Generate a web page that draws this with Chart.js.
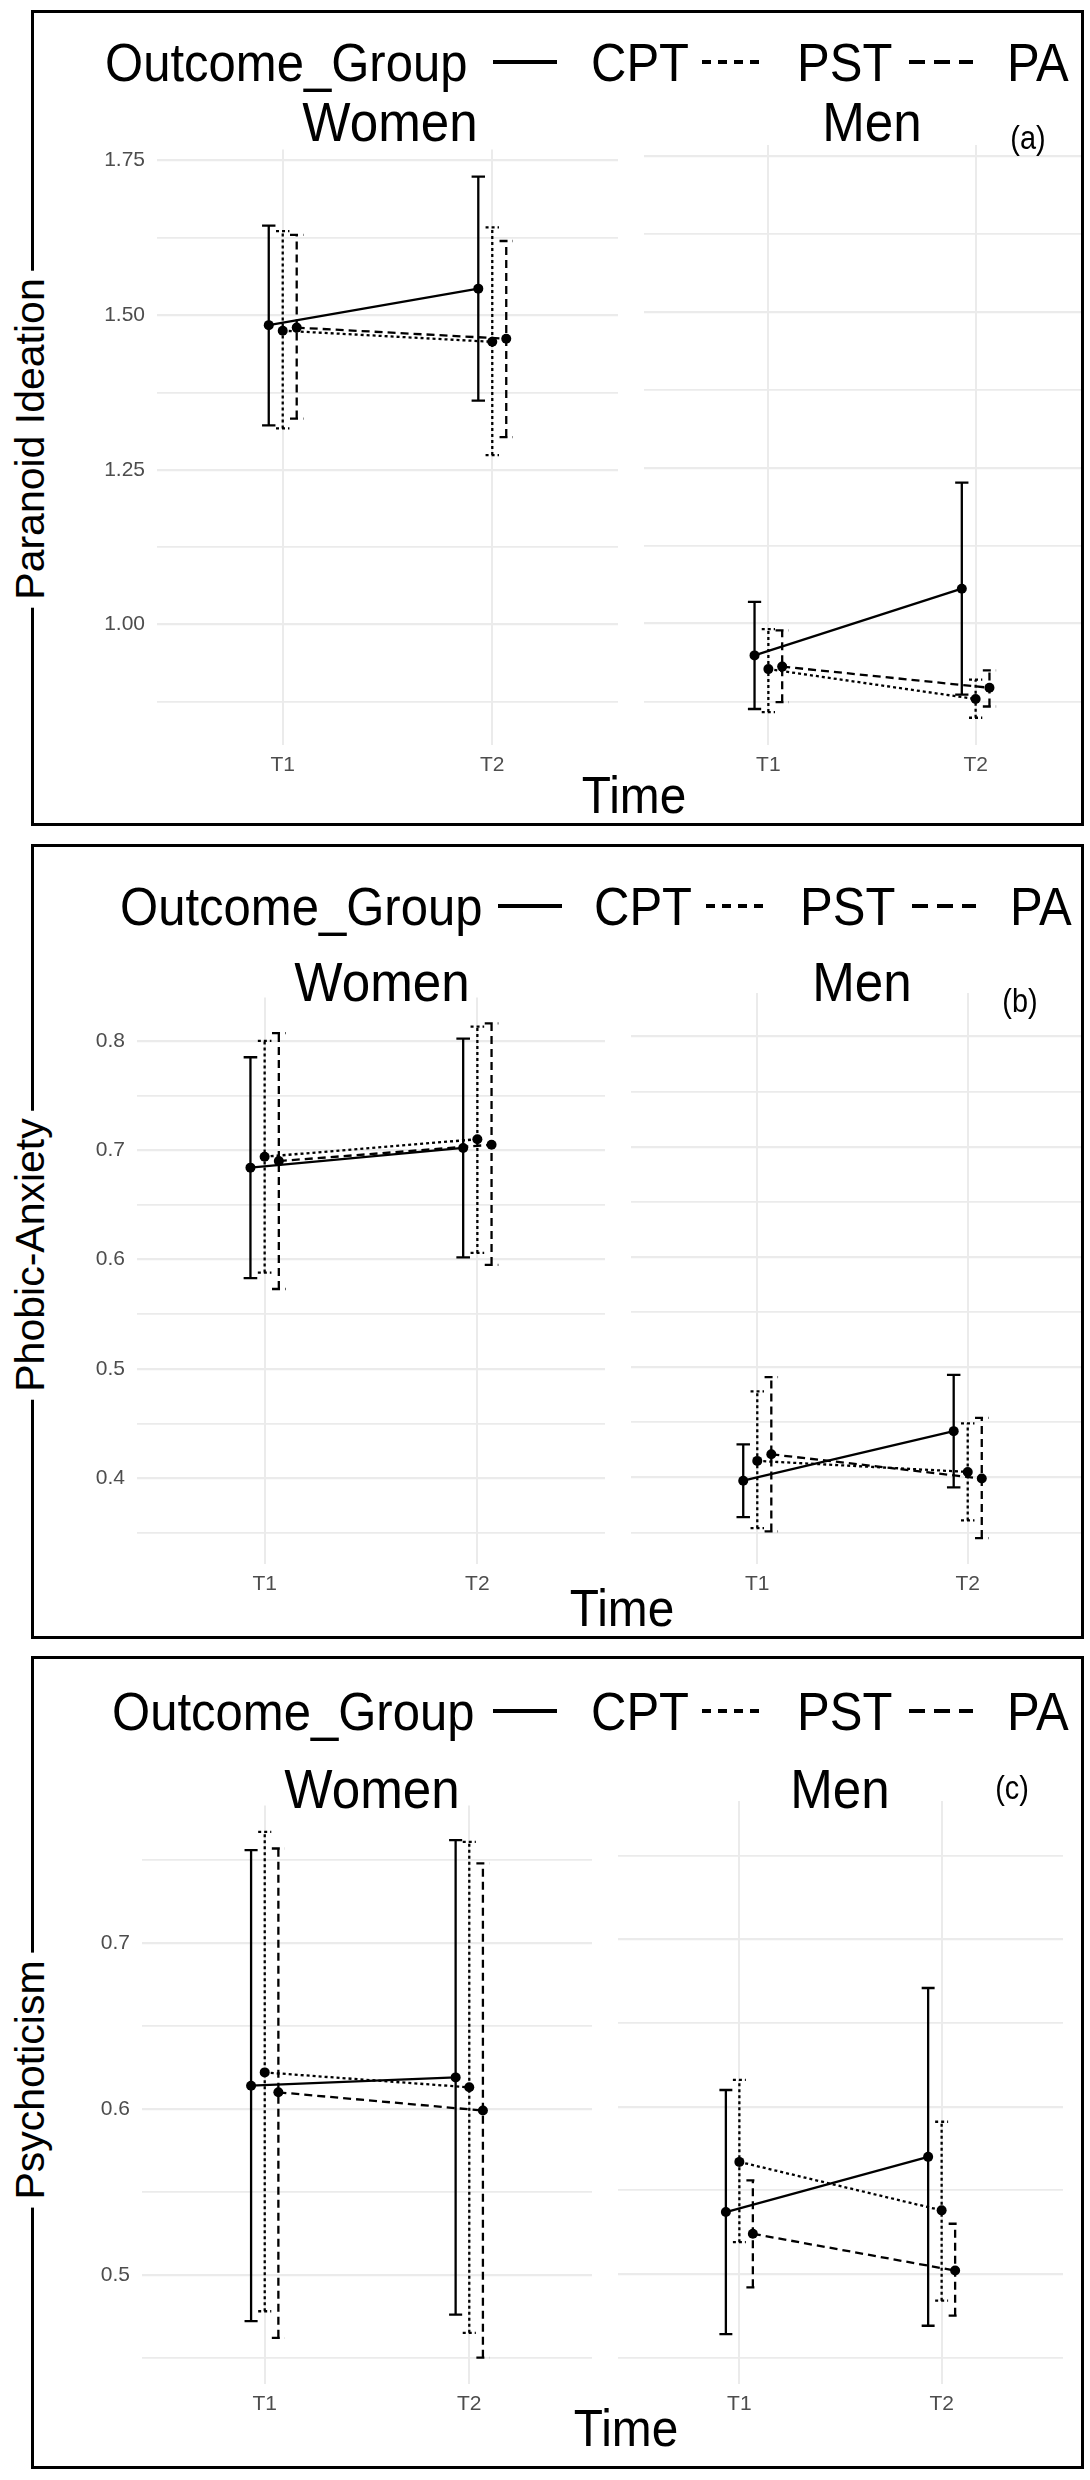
<!DOCTYPE html>
<html>
<head>
<meta charset="utf-8">
<script src="https://cdn.jsdelivr.net/npm/chart.js@4.4.0/dist/chart.umd.min.js"></script>
<style>
  body { margin: 0; background: #fff; width: 1090px; height: 2480px; position: relative; overflow: hidden;
         font-family: 'Liberation Sans', Arial, sans-serif; }
  .panel { position: absolute; box-sizing: border-box; border: 3px solid #000; overflow: hidden; background: #fff; }
  .panel canvas { position: absolute; }
  .txt { position: absolute; white-space: nowrap; line-height: 1; color: #000; z-index: 4; }
  .ytitle { background: #fff; padding: 0 8px; z-index: 6; }
  svg.key { position: absolute; z-index: 4; }
</style>
</head>
<body>
<script>
// categories
const timeLabels = ['T1', 'T2'];
const groupNames = ['CPT', 'PST', 'PA'];
const facetNames = ['Women', 'Men'];

// values are in the order: Women T1, Women T2, Men T1, Men T2
// (a) Paranoid Ideation
const paraCPT = [1.484, 1.543, 0.949, 1.056];
const paraCPTLow = [1.322, 1.362, 0.863, 0.886];
const paraCPTHigh = [1.645, 1.724, 1.035, 1.226];
const paraPST = [1.475, 1.457, 0.927, 0.879];
const paraPSTLow = [1.317, 1.274, 0.858, 0.849];
const paraPSTHigh = [1.636, 1.642, 0.991, 0.910];
const paraPA = [1.480, 1.462, 0.931, 0.897];
const paraPALow = [1.333, 1.303, 0.874, 0.867];
const paraPAHigh = [1.630, 1.620, 0.989, 0.925];
const paraTicks = ['1.00', '1.25', '1.50', '1.75'];

// (b) Phobic-Anxiety
const phobCPT = [0.684, 0.702, 0.397, 0.442];
const phobCPTLow = [0.583, 0.602, 0.364, 0.391];
const phobCPTHigh = [0.785, 0.802, 0.430, 0.493];
const phobPST = [0.694, 0.710, 0.415, 0.405];
const phobPSTLow = [0.588, 0.606, 0.354, 0.361];
const phobPSTHigh = [0.800, 0.813, 0.478, 0.449];
const phobPA = [0.690, 0.705, 0.421, 0.399];
const phobPALow = [0.573, 0.595, 0.351, 0.345];
const phobPAHigh = [0.807, 0.816, 0.491, 0.454];
const phobTicks = ['0.4', '0.5', '0.6', '0.7', '0.8'];

// (c) Psychoticism
const psyCPT = [0.614, 0.619, 0.537, 0.570];
const psyCPTLow = [0.472, 0.476, 0.464, 0.469];
const psyCPTHigh = [0.756, 0.762, 0.610, 0.671];
const psyPST = [0.622, 0.613, 0.567, 0.538];
const psyPSTLow = [0.478, 0.465, 0.519, 0.484];
const psyPSTHigh = [0.767, 0.761, 0.616, 0.591];
const psyPA = [0.610, 0.599, 0.524, 0.502];
const psyPALow = [0.462, 0.450, 0.492, 0.475];
const psyPAHigh = [0.757, 0.748, 0.556, 0.530];
const psyTicks = ['0.5', '0.6', '0.7'];

// styles
var dodge = [-0.0667, 0, 0.0667];
var dashes = [[], [3, 3], [8, 5]];
var keyDash = ['', '9 7', '16 9'];
var capHalf = 0.032;

Chart.defaults.font.family = "'Liberation Sans', Arial, sans-serif";

// layout of the three boxes (page pixels)
var panels = [
  { label: '(a)', yTitle: 'Paranoid Ideation',
    box: { left: 31, top: 10, width: 1053, height: 816 },
    plotTop: 145, plotH: 600, facets: [{ left: 157, width: 466 }, { left: 639, width: 466 }],
    means: [paraCPT, paraPST, paraPA], lows: [paraCPTLow, paraPSTLow, paraPALow],
    highs: [paraCPTHigh, paraPSTHigh, paraPAHigh], ticks: paraTicks,
    keyY: 62, keyX: [105, 493, 591, 702, 797, 909, 1007],
    stripY: 122, stripX: [390, 872], tagX: 1028, tagY: 137,
    timeX: 634, timeY: 795, yTitleY: 439 },
  { label: '(b)', yTitle: 'Phobic-Anxiety',
    box: { left: 31, top: 844, width: 1053, height: 795 },
    plotTop: 993, plotH: 571, facets: [{ left: 137, width: 473 }, { left: 626, width: 473 }],
    means: [phobCPT, phobPST, phobPA], lows: [phobCPTLow, phobPSTLow, phobPALow],
    highs: [phobCPTHigh, phobPSTHigh, phobPAHigh], ticks: phobTicks,
    keyY: 906, keyX: [120, 498, 594, 706, 800, 912, 1010],
    stripY: 982, stripX: [382, 862], tagX: 1020, tagY: 1000,
    timeX: 622, timeY: 1608, yTitleY: 1255 },
  { label: '(c)', yTitle: 'Psychoticism',
    box: { left: 31, top: 1656, width: 1053, height: 813 },
    plotTop: 1801, plotH: 583, facets: [{ left: 142, width: 455 }, { left: 613, width: 455 }],
    means: [psyCPT, psyPST, psyPA], lows: [psyCPTLow, psyPSTLow, psyPALow],
    highs: [psyCPTHigh, psyPSTHigh, psyPAHigh], ticks: psyTicks,
    keyY: 1711, keyX: [112, 493, 591, 702, 797, 909, 1007],
    stripY: 1789, stripX: [372, 840], tagX: 1012, tagY: 1787,
    timeX: 626, timeY: 2428, yTitleY: 2080 }
];

// error bars drawn through the chart's own scales
var errorBars = {
  id: 'errorBars',
  beforeDatasetsDraw: function(chart) {
    var ctx = chart.ctx, xs = chart.scales.x, ys = chart.scales.y;
    chart.data.datasets.forEach(function(ds) {
      ctx.save();
      ctx.strokeStyle = '#000';
      ctx.lineWidth = 2.3;
      ctx.setLineDash(ds.borderDash);
      ds.data.forEach(function(pt, i) {
        var x = xs.getPixelForValue(pt.x);
        var x0 = xs.getPixelForValue(pt.x - capHalf);
        var x1 = xs.getPixelForValue(pt.x + capHalf);
        var yl = ys.getPixelForValue(ds.errLow[i]);
        var yh = ys.getPixelForValue(ds.errHigh[i]);
        ctx.beginPath();
        ctx.moveTo(x, yl); ctx.lineTo(x, yh);
        ctx.moveTo(x0, yh); ctx.lineTo(x1, yh);
        ctx.moveTo(x0, yl); ctx.lineTo(x1, yl);
        ctx.stroke();
      });
      ctx.restore();
    });
  }
};

// sx squeezes the text a little so it reads taller and narrower, like the original
function addText(str, x, y, size, center, sx, extraClass) {
  var d = document.createElement('div');
  d.className = 'txt' + (extraClass ? ' ' + extraClass : '');
  d.textContent = str;
  d.style.left = x + 'px';
  d.style.top = y + 'px';
  d.style.fontSize = size + 'px';
  if (center) {
    d.style.transform = 'translate(-50%,-50%) scale(' + sx + ',1)';
  } else {
    d.style.transformOrigin = '0 50%';
    d.style.transform = 'translate(0,-50%) scale(' + sx + ',1)';
  }
  document.body.appendChild(d);
  return d;
}

function addKey(x, y, dash) {
  var s = '<svg class="key" width="64" height="10" style="left:' + x + 'px;top:' + (y - 5) + 'px">' +
    '<line x1="0" y1="5" x2="64" y2="5" stroke="#000" stroke-width="4"' +
    (dash ? ' stroke-dasharray="' + dash + '"' : '') + '/></svg>';
  document.body.insertAdjacentHTML('beforeend', s);
}

function makeFacet(p, boxDiv, f, yMin, yMax, allTicks, majorVals) {
  var geo = p.facets[f];
  var axisW = f === 0 ? 80 : 0;
  var padTop = 20, axisH = 45;
  var w = geo.width + axisW, h = p.plotH + padTop + axisH;
  var canvas = document.createElement('canvas');
  canvas.width = w; canvas.height = h;
  canvas.style.width = w + 'px'; canvas.style.height = h + 'px';
  canvas.style.left = (geo.left - axisW - p.box.left - 3) + 'px';
  canvas.style.top = (p.plotTop - padTop - p.box.top - 3) + 'px';
  boxDiv.appendChild(canvas);

  var datasets = groupNames.map(function(g, gi) {
    return {
      label: g,
      data: timeLabels.map(function(t, ti) {
        return { x: ti + 1 + dodge[gi], y: p.means[gi][f * 2 + ti] };
      }),
      errLow: timeLabels.map(function(t, ti) { return p.lows[gi][f * 2 + ti]; }),
      errHigh: timeLabels.map(function(t, ti) { return p.highs[gi][f * 2 + ti]; }),
      borderColor: '#000', borderWidth: 2.3, borderDash: dashes[gi],
      pointRadius: 5, pointHoverRadius: 5, pointBackgroundColor: '#000',
      pointBorderColor: '#000', pointBorderWidth: 0, tension: 0, fill: false
    };
  });

  new Chart(canvas, {
    type: 'line',
    data: { datasets: datasets },
    options: {
      responsive: false, animation: false, devicePixelRatio: 1,
      layout: { padding: { top: padTop, left: 0, right: 0, bottom: 0 } },
      plugins: { legend: { display: false }, tooltip: { enabled: false } },
      scales: {
        x: {
          type: 'linear', min: 0.4, max: 2.6,
          afterBuildTicks: function(ax) { ax.ticks = timeLabels.map(function(l, i) { return { value: i + 1 }; }); },
          afterFit: function(ax) { ax.height = axisH; },
          ticks: {
            callback: function(v) { return timeLabels[Math.round(v) - 1]; },
            color: '#4d4d4d', font: { size: 21 }, padding: 8, maxRotation: 0, autoSkip: false
          },
          grid: { color: '#ebebeb', lineWidth: 2, drawTicks: false },
          border: { display: false }
        },
        y: {
          type: 'linear', min: yMin, max: yMax,
          afterBuildTicks: function(ax) { ax.ticks = allTicks.map(function(v) { return { value: v }; }); },
          afterFit: function(ax) { ax.width = axisW; },
          ticks: {
            display: f === 0,
            callback: function(v) {
              for (var k = 0; k < majorVals.length; k++) {
                if (Math.abs(majorVals[k] - v) < 1e-6) return p.ticks[k];
              }
              return '';
            },
            color: '#4d4d4d', font: { size: 21 }, padding: 12
          },
          grid: {
            color: '#ebebeb', drawTicks: false,
            lineWidth: function(c) {
              var v = c.tick ? c.tick.value : 0;
              for (var k = 0; k < majorVals.length; k++) {
                if (Math.abs(majorVals[k] - v) < 1e-6) return 2.2;
              }
              return 1.7;
            }
          },
          border: { display: false }
        }
      }
    },
    plugins: [errorBars]
  });
}

panels.forEach(function(p) {
  var boxDiv = document.createElement('div');
  boxDiv.className = 'panel';
  boxDiv.style.left = p.box.left + 'px';
  boxDiv.style.top = p.box.top + 'px';
  boxDiv.style.width = p.box.width + 'px';
  boxDiv.style.height = p.box.height + 'px';
  document.body.appendChild(boxDiv);

  // y range with 5% expansion of the data span
  var lo = Infinity, hi = -Infinity;
  p.lows.forEach(function(a) { a.forEach(function(v) { lo = Math.min(lo, v); }); });
  p.highs.forEach(function(a) { a.forEach(function(v) { hi = Math.max(hi, v); }); });
  var pad = (hi - lo) * 0.05;
  var yMin = lo - pad, yMax = hi + pad;

  var majorVals = p.ticks.map(parseFloat);
  var half = (majorVals[1] - majorVals[0]) / 2;
  var allTicks = [];
  majorVals.forEach(function(v, i) {
    if (i === 0 && v - half > yMin) allTicks.push(v - half);
    allTicks.push(v);
    if (v + half < yMax) allTicks.push(v + half);
  });

  makeFacet(p, boxDiv, 0, yMin, yMax, allTicks, majorVals);
  makeFacet(p, boxDiv, 1, yMin, yMax, allTicks, majorVals);

  // legend
  addText('Outcome_Group', p.keyX[0], p.keyY, 53, false, 0.925);
  groupNames.forEach(function(g, gi) {
    addKey(p.keyX[1 + gi * 2], p.keyY, keyDash[gi]);
    addText(g, p.keyX[2 + gi * 2], p.keyY, 53, false, 0.925);
  });

  // facet strips, tag, axis titles
  facetNames.forEach(function(n, i) { addText(n, p.stripX[i], p.stripY, 55, true, 0.93); });
  addText(p.label, p.tagX, p.tagY, 34, true, 0.85);
  addText('Time', p.timeX, p.timeY, 52, true, 0.92);
  var yt = addText(p.yTitle, 30, p.yTitleY, 41, true, 1, 'ytitle');
  yt.style.transform = 'translate(-50%,-50%) rotate(-90deg)';
});
</script>
</body>
</html>
